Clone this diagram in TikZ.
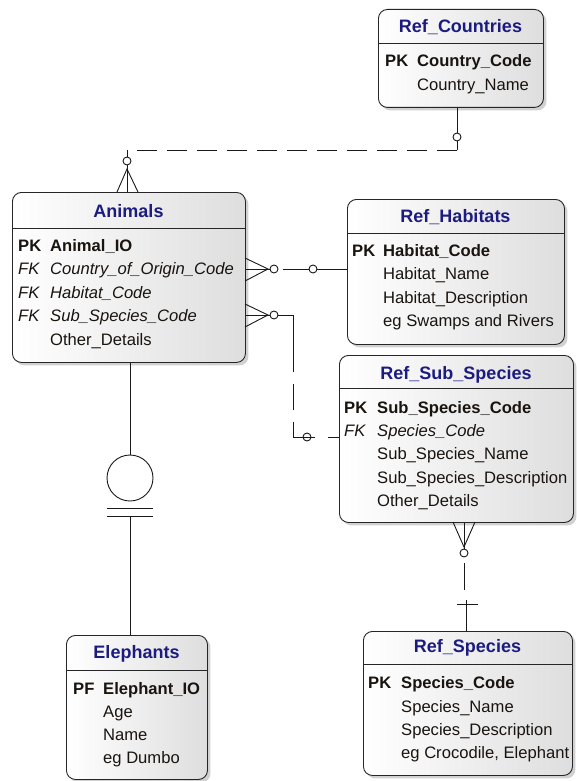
\documentclass[tikz,border=0pt]{standalone}
\usepackage{fontspec}
\setmainfont{Liberation Sans}
\usetikzlibrary{shadows}
\definecolor{ttl}{RGB}{28,28,128}
\definecolor{txt}{RGB}{25,20,15}
\tikzset{
  erbox/.style={draw=black!85, line width=0.9pt, rounded corners=9pt,
    left color=white, right color=black!13, anchor=north west, inner sep=0pt,
    drop shadow={shadow xshift=3pt, shadow yshift=-3pt, opacity=0.4, fill=black!45}},
  hdr/.style={draw=black!85, line width=0.9pt},
  ttlt/.style={anchor=base, inner sep=0pt, text=ttl, font=\fontsize{18}{21}\selectfont\bfseries},
  fld/.style={anchor=base west, inner sep=0pt, text=txt, font=\fontsize{16.6}{20}\selectfont},
  fldb/.style={fld, font=\fontsize{16.6}{20}\selectfont\bfseries},
  fldi/.style={fld, font=\fontsize{16.6}{20}\selectfont\itshape},
  conn/.style={draw=black!90, line width=0.9pt},
  dconn/.style={conn, dash pattern=on 20pt off 10pt},
  ocirc/.style={circle, draw=black!90, line width=0.9pt, fill=white, minimum size=8pt, inner sep=0pt},
  bigcirc/.style={circle, draw=black!90, line width=0.9pt, minimum size=46pt, inner sep=0pt}
}
\begin{document}
\begin{tikzpicture}[x=1pt,y=-1pt]
\useasboundingbox (0,0) rectangle (576,781);
\fill[white] (0,0) rectangle (576,781);

% ---------- Ref_Countries ----------
\node[erbox, minimum width=165pt, minimum height=98pt] (countries) at (378,9) {};
\draw[hdr] ([yshift=-34pt]countries.north west) -- ([yshift=-34pt]countries.north east);
\node[ttlt] (countriesT) at (460.5,32.5) {Ref\_Countries};
\node[fldb] (c1k) at (385,67) {PK};
\node[fldb] (c1) at (417,67) {Country\_Code};
\node[fld] (c2) at (417,91) {Country\_Name};

% ---------- Animals ----------
\node[erbox, minimum width=233pt, minimum height=170pt] (animals) at (12,192) {};
\draw[hdr] ([yshift=-36pt]animals.north west) -- ([yshift=-36pt]animals.north east);
\node[ttlt] (animalsT) at (128.5,217.5) {Animals};
\node[fldb] (a1k) at (18,251) {PK};
\node[fldb] (a1) at (50,251) {Animal\_IO};
\node[fldi] (a2k) at (18,274) {FK};
\node[fldi] (a2) at (50,274) {Country\_of\_Origin\_Code};
\node[fldi] (a3k) at (18,298) {FK};
\node[fldi] (a3) at (50,298) {Habitat\_Code};
\node[fldi] (a4k) at (18,321) {FK};
\node[fldi] (a4) at (50,321) {Sub\_Species\_Code};
\node[fld] (a5) at (50,345) {Other\_Details};

% ---------- Ref_Habitats ----------
\node[erbox, minimum width=217pt, minimum height=145pt] (habitats) at (347,199) {};
\draw[hdr] ([yshift=-34pt]habitats.north west) -- ([yshift=-34pt]habitats.north east);
\node[ttlt] (habitatsT) at (455.5,222.5) {Ref\_Habitats};
\node[fldb] (h1k) at (352,256) {PK};
\node[fldb] (h1) at (383,256) {Habitat\_Code};
\node[fld] (h2) at (383,279) {Habitat\_Name};
\node[fld] (h3) at (383,303) {Habitat\_Description};
\node[fld] (h4) at (383,326) {eg Swamps and Rivers};

% ---------- Ref_Sub_Species ----------
\node[erbox, minimum width=234pt, minimum height=167pt] (subspecies) at (339,355) {};
\draw[hdr] ([yshift=-33pt]subspecies.north west) -- ([yshift=-33pt]subspecies.north east);
\node[ttlt] (subspeciesT) at (456,379.5) {Ref\_Sub\_Species};
\node[fldb] (s1k) at (344,413) {PK};
\node[fldb] (s1) at (377,413) {Sub\_Species\_Code};
\node[fldi] (s2k) at (344,436) {FK};
\node[fldi] (s2) at (377,436) {Species\_Code};
\node[fld] (s3) at (377,459) {Sub\_Species\_Name};
\node[fld] (s4) at (377,483) {Sub\_Species\_Description};
\node[fld] (s5) at (377,506) {Other\_Details};

% ---------- Elephants ----------
\node[erbox, minimum width=141pt, minimum height=144pt] (elephants) at (66,635) {};
\draw[hdr] ([yshift=-35pt]elephants.north west) -- ([yshift=-35pt]elephants.north east);
\node[ttlt] (elephantsT) at (136.5,658.5) {Elephants};
\node[fldb] (e1k) at (73,694) {PF};
\node[fldb] (e1) at (103,694) {Elephant\_IO};
\node[fld] (e2) at (103,717) {Age};
\node[fld] (e3) at (103,740) {Name};
\node[fld] (e4) at (103,763) {eg Dumbo};

% ---------- Ref_Species ----------
\node[erbox, minimum width=209pt, minimum height=144pt] (species) at (363,631) {};
\draw[hdr] ([yshift=-33pt]species.north west) -- ([yshift=-33pt]species.north east);
\node[ttlt] (speciesT) at (467.5,652.5) {Ref\_Species};
\node[fldb] (p1k) at (368,688) {PK};
\node[fldb] (p1) at (401,688) {Species\_Code};
\node[fld] (p2) at (401,712) {Species\_Name};
\node[fld] (p3) at (401,735) {Species\_Description};
\node[fld] (p4) at (401,758) {eg Crocodile, Elephant};

% ---------- Countries -> Animals ----------
\node[ocirc] (o1) at (457,137) {};
\node[ocirc] (o2) at (127,161) {};
\coordinate (k1) at (457,150);
\coordinate (k2) at (127,150);
\coordinate (cf1) at (127,169);
\draw[conn] (o1 |- countries.south) -- (o1.north);
\draw[conn] (o1.south) -- (k1);
\draw[dconn] (k1) -- (k2);
\draw[conn] (k2) -- (o2.north);
\draw[conn] (o2.south) -- (o2 |- animals.north);
\draw[conn] (117,192) -- (cf1) -- (138,192);

% ---------- Animals -> Habitats ----------
\node[ocirc] (o3) at (274,269) {};
\node[ocirc] (o4) at (313,269) {};
\coordinate (cf2) at (268,269);
\draw[conn] (245,258) -- (cf2) -- (245,281);
\draw[conn] (o3.west -| animals.east) -- (o3.west);
\draw[conn] (283,269) -- (o4.west);
\draw[conn] (o4.east) -- (o4.east -| habitats.west);

% ---------- Animals -> Sub_Species ----------
\node[ocirc] (o5) at (274,315) {};
\node[ocirc] (o6) at (307,437) {};
\coordinate (cf3) at (268,315);
\coordinate (k3) at (293,315);
\coordinate (k3b) at (293,346);
\coordinate (k4) at (293,437);
\coordinate (k5) at (328,437);
\draw[conn] (245,304) -- (cf3) -- (245,327);
\draw[conn] (o5.west -| animals.east) -- (o5.west);
\draw[conn] (o5.east) -- (k3) -- (k3b);
\draw[conn, dash pattern=on 26pt off 12pt] (k3b) -- (293,428);
\draw[conn] (293,428) -- (k4) -- (o6.west);
\draw[conn] (o6.west) -- (o6.east);
\draw[conn] (o6.east) -- (315,437);
\draw[conn] (k5) -- (k5 -| subspecies.west);

% ---------- Sub_Species -> Species ----------
\node[ocirc] (o7) at (464,553) {};
\coordinate (cf4) at (464,547);
\coordinate (k6) at (464,563);
\coordinate (k7) at (464,590);
\coordinate (bl) at (457,604);
\coordinate (br) at (478,604);
\coordinate (k8) at (466,600);
\draw[conn] (453,522) -- (cf4) -- (475,522);
\draw[conn] (o7.north |- subspecies.south) -- (o7.north);
\draw[conn] (k6) -- (k7);
\draw[conn] (bl) -- (br);
\draw[conn] (k8) -- (k8 |- species.north);

% ---------- Animals -> Elephants ----------
\node[bigcirc] (o8) at (130,478) {};
\coordinate (b1l) at (107,508);
\coordinate (b1r) at (153,508);
\coordinate (b2l) at (107,516);
\coordinate (b2r) at (153,516);
\coordinate (k9) at (130,516);
\draw[conn] (o8.north |- animals.south) -- (o8.north);
\draw[conn] (b1l) -- (b1r);
\draw[conn] (b2l) -- (b2r);
\draw[conn] (k9) -- (k9 |- elephants.north);
\end{tikzpicture}
\end{document}
